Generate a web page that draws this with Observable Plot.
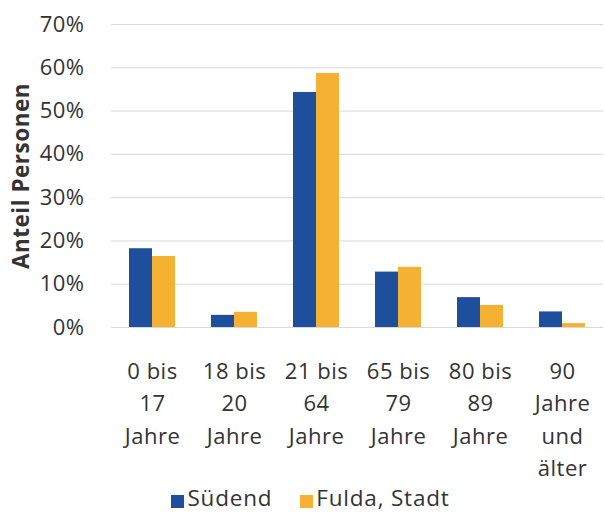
<!DOCTYPE html>
<html>
<head>
<meta charset="utf-8">
<script src="https://cdn.jsdelivr.net/npm/d3@7"></script>
<script src="https://cdn.jsdelivr.net/npm/@observablehq/plot@0.6"></script>
<style>
  html, body { margin: 0; padding: 0; background: #fff; }
  #chart { width: 605px; }
  #chart svg { display: block; }
  #chart svg text { letter-spacing: 0.5px; }
  .lg-swatches { position: relative; font-family: "Open Sans", sans-serif !important; font-size: 22.5px !important; letter-spacing: 0.8px; color: #333 !important; justify-content: center; padding-left: 44px; margin: -8px 0 0 0 !important; min-height: 0 !important; }
  .lg-swatches-wrap .lg-swatch { margin-right: 28px !important; }
  .lg-swatch > svg { margin-right: 3px !important; margin-top: 8px; }
</style>
</head>
<body>
<div id="chart"></div>
<script>
const categories = ["0 bis\n17\nJahre", "18 bis\n20\nJahre", "21 bis\n64\nJahre", "65 bis\n79\nJahre", "80 bis\n89\nJahre", "90\nJahre\nund\nälter"];
const series = ["Südend", "Fulda, Stadt"];
const suedend = [0.182, 0.028, 0.543, 0.128, 0.069, 0.036];
const fulda = [0.164, 0.035, 0.587, 0.139, 0.051, 0.009];
const colors = ["#1d4f9c", "#f5b131"];
const yTicks = [0, 0.1, 0.2, 0.3, 0.4, 0.5, 0.6, 0.7];
const yLabel = "Anteil Personen";

const data = [];
categories.forEach((c, i) => {
  data.push({cat: c, series: series[0], value: suedend[i]});
  data.push({cat: c, series: series[1], value: fulda[i]});
});

const chart = Plot.plot({
  width: 605,
  height: 490,
  marginLeft: 109,
  marginRight: 0,
  marginTop: 24,
  marginBottom: 163,
  style: {fontFamily: "'Open Sans', sans-serif", fontSize: "22px", color: "#333", background: "transparent"},
  fx: {domain: categories, padding: 0, label: null, axis: null},
  x: {domain: series, paddingInner: 0, paddingOuter: 0.72, axis: null},
  y: {domain: [0, 0.7], axis: null},
  color: {domain: series, range: colors},
  marks: [
    Plot.gridY(yTicks, {stroke: "#d9d9d9", strokeOpacity: 1, strokeWidth: 1}),
    Plot.barY(data, {fx: "cat", x: "series", y: "value", fill: "series"}),
    Plot.axisY(yTicks, {tickFormat: d3.format(".0%"), tickSize: 0, tickPadding: 27, fontSize: 22, label: null}),
    Plot.axisY(yTicks, {tickFormat: () => "", tickSize: 0, label: yLabel, labelArrow: "none", labelAnchor: "center", labelOffset: 98, fontWeight: "bold", fontSize: 22.5}),
    Plot.axisFx({anchor: "bottom", tickSize: 0, tickPadding: 28, fontSize: 22, lineHeight: 1.48, label: null})
  ]
});
document.getElementById("chart").appendChild(chart);

const legend = Plot.legend({color: {domain: series, range: colors}, swatchSize: 13, className: "lg"});
document.getElementById("chart").appendChild(legend);
</script>
</body>
</html>
